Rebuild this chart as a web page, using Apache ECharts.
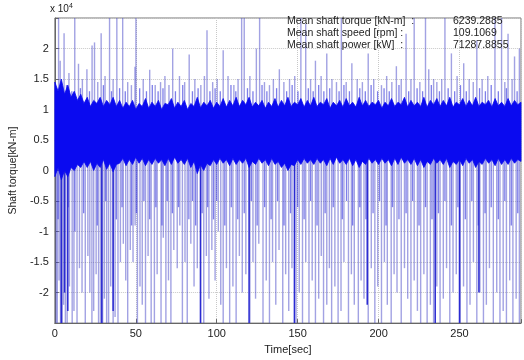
<!DOCTYPE html>
<html>
<head>
<meta charset="utf-8">
<script src="https://cdn.jsdelivr.net/npm/echarts@6/dist/echarts.min.js"></script>
<style>
  html, body { margin: 0; padding: 0; background: #fff; }
  #chart { width: 524px; height: 360px; }
</style>
</head>
<body>
<div id="chart"></div>
<script>
// torque in units of 1e4 kN-m
// upward spikes: time [s] and peak
const upTime = [
  2.3, 3.3, 5.7, 8.7, 12.3, 14.6, 17.0, 19.8, 23.0, 24.5, 26.5, 28.6, 31.0, 33.8, 36.0, 38.3,
  41.9, 45.0, 47.3, 49.5, 50.1, 54.6, 58.6, 62.0, 65.3, 68.0, 70.5, 72.8, 77.0, 80.2, 83.0, 86.5,
  90.2, 92.4, 94.0, 97.5, 100.3, 104.0, 107.0, 110.6, 113.2, 115.4, 117.0, 120.5, 124.5, 126.5, 129.5, 132.6,
  135.0, 138.7, 141.5, 145.0, 148.2, 152.0, 155.0, 158.0, 161.0, 164.5, 168.0, 171.2, 174.0, 177.0, 180.0, 183.5,
  186.8, 190.0, 193.6, 197.0, 201.8, 205.0, 208.2, 211.0, 214.0, 217.0, 220.0, 222.0, 225.5, 229.0, 231.0, 234.0,
  236.0, 239.0, 241.0, 245.0, 248.5, 252.6, 256.0, 258.5, 260.7, 264.0, 267.5, 271.9, 276.0, 278.0, 280.0, 282.5,
  284.0, 287.0
];
const upPeak = [
  2.5, 1.8, 2.25, 1.6, 2.5, 1.75, 1.5, 1.66, 2.05, 2.1, 1.45, 2.25, 1.55, 2.5, 1.5, 2.5,
  2.5, 1.45, 1.4, 1.7, 2.5, 1.5, 1.65, 1.4, 1.45, 1.55, 1.4, 2.0, 1.55, 1.45, 1.9, 1.5,
  1.4, 1.55, 2.3, 1.45, 1.5, 1.97, 1.55, 1.4, 1.5, 2.5, 2.5, 1.55, 2.0, 2.5, 1.45, 1.4,
  1.5, 1.66, 1.45, 1.5, 1.55, 2.5, 2.4, 1.5, 1.8, 1.55, 1.92, 1.5, 1.45, 2.5, 1.45, 1.76,
  1.5, 1.45, 1.92, 1.5, 1.4, 1.55, 1.45, 1.71, 1.5, 2.24, 1.5, 2.5, 1.45, 2.5, 1.66, 1.5,
  1.45, 1.5, 2.5, 1.92, 1.55, 1.76, 1.5, 1.45, 2.13, 1.5, 1.55, 2.5, 2.5, 1.45, 2.24, 1.5,
  1.87, 2.0
];
// shorter upward spikes just above the core
const midUpTime = [
  1.0, 7.2, 10.5, 15.8, 21.4, 30.0, 35.0, 40.0, 43.5, 52.4, 56.6, 60.2, 63.8, 66.8, 74.5, 79.0,
  85.0, 88.5, 95.8, 99.0, 102.2, 108.8, 111.8, 119.0, 122.4, 128.0, 131.0, 137.0, 143.2, 146.6, 150.2, 156.6,
  159.6, 163.0, 166.2, 169.8, 175.6, 178.6, 182.0, 188.4, 191.8, 195.4, 199.4, 203.4, 206.6, 212.6, 218.6, 223.8,
  227.2, 232.6, 237.6, 243.0, 247.0, 250.6, 254.2, 262.4, 266.0, 269.6, 274.0, 279.0, 285.6
];
const midUpPeak = [
  1.35, 1.4, 1.3, 1.35, 1.3, 1.4, 1.3, 1.35, 1.3, 1.35, 1.3, 1.4, 1.3, 1.35, 1.3, 1.4,
  1.3, 1.35, 1.3, 1.35, 1.3, 1.4, 1.3, 1.35, 1.3, 1.4, 1.3, 1.35, 1.3, 1.4, 1.3, 1.35,
  1.3, 1.4, 1.3, 1.35, 1.3, 1.4, 1.3, 1.35, 1.3, 1.4, 1.3, 1.35, 1.3, 1.4, 1.3, 1.35,
  1.3, 1.4, 1.3, 1.35, 1.3, 1.4, 1.3, 1.35, 1.3, 1.4, 1.3, 1.35, 1.3
];
// downward spikes: time [s] and dip
const dnTime = [
  0.8, 1.5, 2.6, 3.5, 4.6, 5.4, 6.5, 7.6, 9.0, 10.7, 11.8, 13.7, 15.2, 16.8, 18.8, 20.4,
  21.6, 22.9, 24.0, 25.5, 27.0, 28.2, 29.5, 30.6, 32.0, 33.2, 34.5, 36.0, 37.2, 39.0, 40.5, 42.3,
  43.8, 45.0, 46.6, 48.3, 49.6, 51.0, 52.6, 54.0, 56.0, 57.6, 59.5, 61.5, 63.2, 65.6, 67.0, 68.6,
  70.2, 71.7, 73.5, 75.6, 77.2, 78.8, 80.4, 81.8, 84.0, 86.0, 88.0, 90.0, 92.0, 93.6, 95.2, 97.0,
  99.0, 101.0, 102.5, 104.0, 106.0, 108.0, 110.0, 112.0, 114.0, 115.8, 118.0, 120.5, 122.4, 124.0, 126.0, 128.6,
  130.6, 132.6, 134.5, 136.5, 138.5, 140.8, 142.6, 144.5, 146.5, 149.0, 151.0, 153.0, 155.0, 157.0, 159.0, 161.0,
  163.0, 164.6, 166.0, 168.0, 169.6, 171.0, 173.0, 175.0, 176.8, 178.6, 181.4, 183.2, 185.0, 187.5, 189.2, 191.0,
  193.6, 195.5, 197.7, 199.5, 201.8, 203.6, 205.4, 207.8, 209.6, 211.4, 214.0, 216.0, 218.0, 220.0, 222.0, 224.0,
  226.0, 228.0, 230.0, 232.0, 234.0, 236.0, 238.0, 240.0, 242.0, 244.0, 246.0, 248.0, 250.5, 252.5, 254.6, 256.5,
  258.6, 260.7, 262.6, 264.8, 266.6, 268.5, 270.9, 273.0, 275.0, 277.0, 279.0, 281.0, 283.0, 285.0, 287.0
];
const dnDip = [
  -2.5, -2.5, -1.8, -2.5, -2.5, -2.2, -2.5, -2.5, -1.9, -2.5, -2.3, -2.5, -1.6, -2.0, -2.5, -1.4,
  -2.0, -2.5, -2.3, -1.7, -2.5, -2.5, -2.5, -2.1, -2.5, -2.5, -1.9, -2.5, -2.4, -2.5, -1.5, -1.2,
  -1.8, -2.5, -1.3, -1.5, -0.9, -2.5, -1.9, -2.2, -2.5, -1.4, -2.5, -2.5, -1.7, -2.5, -1.1, -2.5,
  -1.8, -2.5, -1.3, -1.6, -0.9, -2.5, -1.5, -2.5, -1.2, -1.9, -1.6, -2.5, -2.5, -1.4, -2.1, -1.3,
  -1.8, -1.0, -2.2, -2.5, -1.6, -2.5, -1.9, -2.5, -1.4, -2.0, -1.7, -2.5, -1.5, -2.1, -1.2, -2.5,
  -1.8, -2.5, -1.5, -2.2, -1.3, -2.5, -1.7, -2.3, -1.6, -2.5, -2.0, -2.5, -1.5, -2.5, -1.8, -2.5,
  -2.1, -1.4, -2.5, -2.2, -1.6, -2.5, -1.9, -2.5, -2.3, -1.5, -2.5, -1.7, -2.2, -2.5, -1.8, -2.1,
  -2.5, -1.6, -2.5, -1.9, -2.5, -1.5, -2.2, -2.5, -1.7, -2.0, -2.5, -1.6, -2.1, -2.5, -1.8, -2.3,
  -2.5, -1.7, -2.5, -2.2, -2.5, -1.9, -2.5, -2.1, -1.6, -2.5, -2.0, -1.7, -2.5, -1.9, -2.5, -2.2,
  -1.5, -2.5, -2.0, -2.5, -2.2, -1.6, -2.5, -2.0, -2.5, -2.3, -2.5, -1.8, -2.5, -2.1, -2.5
];
// shorter downward spikes just below the core
const midDnTime = [
  2.0, 8.2, 12.4, 17.8, 26.2, 31.4, 38.0, 41.5, 47.4, 50.4, 55.0, 58.6, 62.4, 66.2, 69.4, 72.6,
  76.4, 82.8, 85.0, 87.0, 91.0, 94.4, 98.0, 100.0, 105.0, 109.0, 113.0, 117.0, 121.4, 125.0, 129.6, 133.6,
  137.6, 141.6, 145.6, 150.0, 154.0, 158.0, 162.0, 167.0, 172.0, 177.6, 180.2, 184.0, 188.4, 192.2, 196.6, 200.6,
  204.6, 208.6, 212.6, 217.0, 221.0, 225.0, 229.0, 233.0, 237.0, 241.0, 245.0, 249.0, 253.6, 257.6, 261.6, 265.8,
  269.6, 274.0, 278.0, 282.0, 286.0
];
const midDnDip = [
  -0.8, -0.6, -1.0, -0.7, -0.9, -0.5, -0.8, -0.6, -0.9, -0.7, -0.5, -0.8, -0.6, -0.9, -0.5, -0.7,
  -0.6, -0.8, -0.5, -0.9, -0.7, -0.6, -0.8, -0.5, -0.9, -0.6, -0.8, -0.7, -0.5, -0.9, -0.6, -0.8,
  -0.5, -0.9, -0.7, -0.6, -0.8, -0.5, -0.9, -0.7, -0.6, -0.8, -0.5, -0.9, -0.6, -0.8, -0.7, -0.5,
  -0.9, -0.6, -0.8, -0.7, -0.5, -0.9, -0.6, -0.8, -0.7, -0.5, -0.9, -0.6, -0.8, -0.5, -0.9, -0.7,
  -0.6, -0.8, -0.5, -0.9, -0.7
];
// darker deep dips
const darkTime = [4, 6, 8, 29, 36, 90, 120, 148, 193, 235, 250, 262];
const darkDip = [-2.5, -2.0, -2.3, -2.5, -2.3, -2.5, -2.5, -2.5, -2.2, -2.5, -2.5, -2.0];
// dense core of the signal, upper and lower edge every 2 s from 0 s
const coreHi = [
  1.45, 1.3, 1.5, 1.25, 1.4, 1.2, 1.3, 1.15, 1.25, 1.1,
  1.2, 1.05, 1.15, 1.1, 1.2, 1.05, 1.15, 1.08, 1.2, 1.05,
  1.15, 1.02, 1.12, 1.05, 1.15, 1.0, 1.1, 1.05, 1.18, 1.02,
  1.12, 1.05, 1.15, 1.0, 1.1, 1.08, 1.18, 1.02, 1.12, 1.05,
  1.15, 1.0, 1.1, 1.05, 1.2, 1.03, 1.12, 1.06, 1.15, 1.02,
  1.12, 1.05, 1.18, 1.04, 1.15, 1.06, 1.2, 1.05, 1.15, 1.08,
  1.2, 1.04, 1.12, 1.06, 1.15, 1.02, 1.12, 1.05, 1.18, 1.04,
  1.15, 1.06, 1.2, 1.05, 1.12, 1.08, 1.18, 1.04, 1.15, 1.06,
  1.2, 1.05, 1.12, 1.08, 1.18, 1.02, 1.12, 1.06, 1.15, 1.04,
  1.18, 1.06, 1.12, 1.04, 1.2, 1.06, 1.15, 1.05, 1.12, 1.08,
  1.15, 1.02, 1.12, 1.06, 1.18, 1.05, 1.12, 1.08, 1.2, 1.04,
  1.15, 1.06, 1.12, 1.05, 1.2, 1.04, 1.15, 1.08, 1.18, 1.05,
  1.15, 1.06, 1.2, 1.04, 1.12, 1.08, 1.18, 1.05, 1.15, 1.06,
  1.2, 1.05, 1.12, 1.08, 1.15, 1.04, 1.18, 1.06, 1.12, 1.05,
  1.18, 1.06, 1.15, 1.08, 1.12
];
const coreLo = [
  -0.1, 0.05, -0.15, 0.0, -0.1, 0.05, 0.0, 0.1, 0.05, 0.15,
  0.05, 0.15, 0.0, 0.12, 0.05, 0.18, 0.02, 0.12, -0.02, 0.1,
  0.12, 0.2, 0.08, 0.18, 0.1, 0.22, 0.12, 0.2, 0.08, 0.18,
  0.1, 0.2, 0.12, 0.18, 0.08, 0.2, 0.1, 0.22, 0.12, 0.18,
  0.1, 0.2, 0.05, 0.15, -0.05, 0.1, 0.0, 0.12, 0.08, 0.18,
  0.1, 0.2, 0.12, 0.18, 0.08, 0.2, 0.1, 0.18, 0.12, 0.2,
  0.05, 0.15, 0.1, 0.2, 0.12, 0.18, 0.08, 0.2, 0.1, 0.15,
  0.05, 0.12, 0.0, 0.1, 0.08, 0.18, 0.1, 0.2, 0.12, 0.18,
  0.1, 0.2, 0.12, 0.18, 0.08, 0.2, 0.1, 0.22, 0.12, 0.18,
  0.1, 0.2, 0.08, 0.18, 0.05, 0.15, 0.1, 0.2, 0.12, 0.18,
  0.1, 0.2, 0.12, 0.18, 0.08, 0.2, 0.1, 0.22, 0.12, 0.18,
  0.1, 0.2, 0.08, 0.18, 0.05, 0.15, 0.1, 0.2, 0.12, 0.18,
  0.1, 0.2, 0.05, 0.15, 0.1, 0.18, 0.08, 0.2, 0.12, 0.18,
  0.05, 0.15, 0.1, 0.2, 0.12, 0.18, 0.08, 0.2, 0.1, 0.18,
  0.1, 0.2, 0.12, 0.18, 0.15
];
const coreStep = 2;
const spikeBase = 0.6;

const statNames = ['Mean shaft torque [kN-m]  :', 'Mean shaft speed [rpm] :', 'Mean shaft power [kW]  :'];
const statValues = ['6239.2885', '109.1069', '71287.8855'];

const pairs = (ts, vs) => ts.map((t, i) => [t, vs[i]]);
const spikes = pairs(upTime, upPeak).concat(pairs(dnTime, dnDip));
const midSpikes = pairs(midUpTime, midUpPeak).concat(pairs(midDnTime, midDnDip));
const darkSpikes = pairs(darkTime, darkDip);

function spikeRenderer(color, width) {
  return function (params, api) {
    const a = api.coord([api.value(0), spikeBase]);
    const b = api.coord([api.value(0), api.value(1)]);
    return {
      type: 'line',
      shape: { x1: a[0], y1: a[1], x2: b[0], y2: b[1] },
      style: { stroke: color, lineWidth: width }
    };
  };
}

function renderCore(params, api) {
  if (params.dataIndex !== 0) return null;
  const pts = [];
  coreHi.forEach((v, i) => pts.push(api.coord([i * coreStep, v])));
  for (let i = coreLo.length - 1; i >= 0; i--) pts.push(api.coord([i * coreStep, coreLo[i]]));
  return {
    type: 'polygon',
    shape: { points: pts },
    style: { fill: '#0a0af0', stroke: '#0a0af0', lineWidth: 0.8 }
  };
}

const font = 'Liberation Sans, Arial, sans-serif';
const chart = echarts.init(document.getElementById('chart'));
chart.setOption({
  animation: false,
  grid: { left: 51, right: 2, top: 18, bottom: 27, show: true, borderColor: '#777', borderWidth: 1 },
  xAxis: {
    type: 'value', min: 0, max: 288, interval: 50,
    name: 'Time[sec]', nameLocation: 'middle', nameGap: 20,
    nameTextStyle: { color: '#222', fontSize: 11, fontFamily: font },
    axisLine: { onZero: false, lineStyle: { color: '#666' } },
    axisTick: { inside: true, length: 4, lineStyle: { color: '#666' } },
    axisLabel: { color: '#222', fontSize: 11, fontFamily: font, margin: 5,
      formatter: v => (v % 50 === 0 ? String(v) : '') },
    splitLine: { show: true, lineStyle: { color: '#c8c8c8', type: 'dotted' } }
  },
  yAxis: {
    type: 'value', min: -2.5, max: 2.5, interval: 0.5,
    name: 'Shaft torque[kN-m]', nameLocation: 'middle', nameGap: 34,
    nameTextStyle: { color: '#222', fontSize: 10.5, fontFamily: font },
    axisLine: { show: true, onZero: false, lineStyle: { color: '#666' } },
    axisTick: { show: true, inside: true, length: 4, lineStyle: { color: '#666' } },
    axisLabel: { color: '#222', fontSize: 11, fontFamily: font, margin: 6,
      formatter: v => (Math.abs(v) > 2.4 ? '' : String(v)) },
    splitLine: { show: true, lineStyle: { color: '#c8c8c8', type: 'dotted' } }
  },
  series: [
    { type: 'custom', data: spikes, clip: true, silent: true,
      renderItem: spikeRenderer('rgba(70,70,200,0.5)', 1.4) },
    { type: 'custom', data: midSpikes, clip: true, silent: true,
      renderItem: spikeRenderer('rgba(40,40,220,0.6)', 1.3) },
    { type: 'custom', data: darkSpikes, clip: true, silent: true,
      renderItem: spikeRenderer('#2a2ad2', 1.5) },
    { type: 'custom', data: coreHi.map((v, i) => [i * coreStep, v]), clip: true, silent: true,
      renderItem: renderCore }
  ],
  graphic: [
    {
      type: 'text', left: 50, top: 3,
      style: { text: '{a|x 10}{b|4}', rich: {
        a: { fontSize: 10, fontFamily: font, fill: '#222' },
        b: { fontSize: 7, fontFamily: font, fill: '#222', verticalAlign: 'top', padding: [0, 0, 6, 0] }
      } }
    },
    ...statNames.map((s, i) => ({
      type: 'text', left: 287, top: 16 + i * 11.7, z: 10,
      style: { text: s, fontSize: 10.5, fontFamily: font, fill: '#222' }
    })),
    ...statValues.map((s, i) => ({
      type: 'text', left: 453, top: 16 + i * 11.7, z: 10,
      style: { text: s, fontSize: 10.5, fontFamily: font, fill: '#222' }
    }))
  ]
});
</script>
</body>
</html>
